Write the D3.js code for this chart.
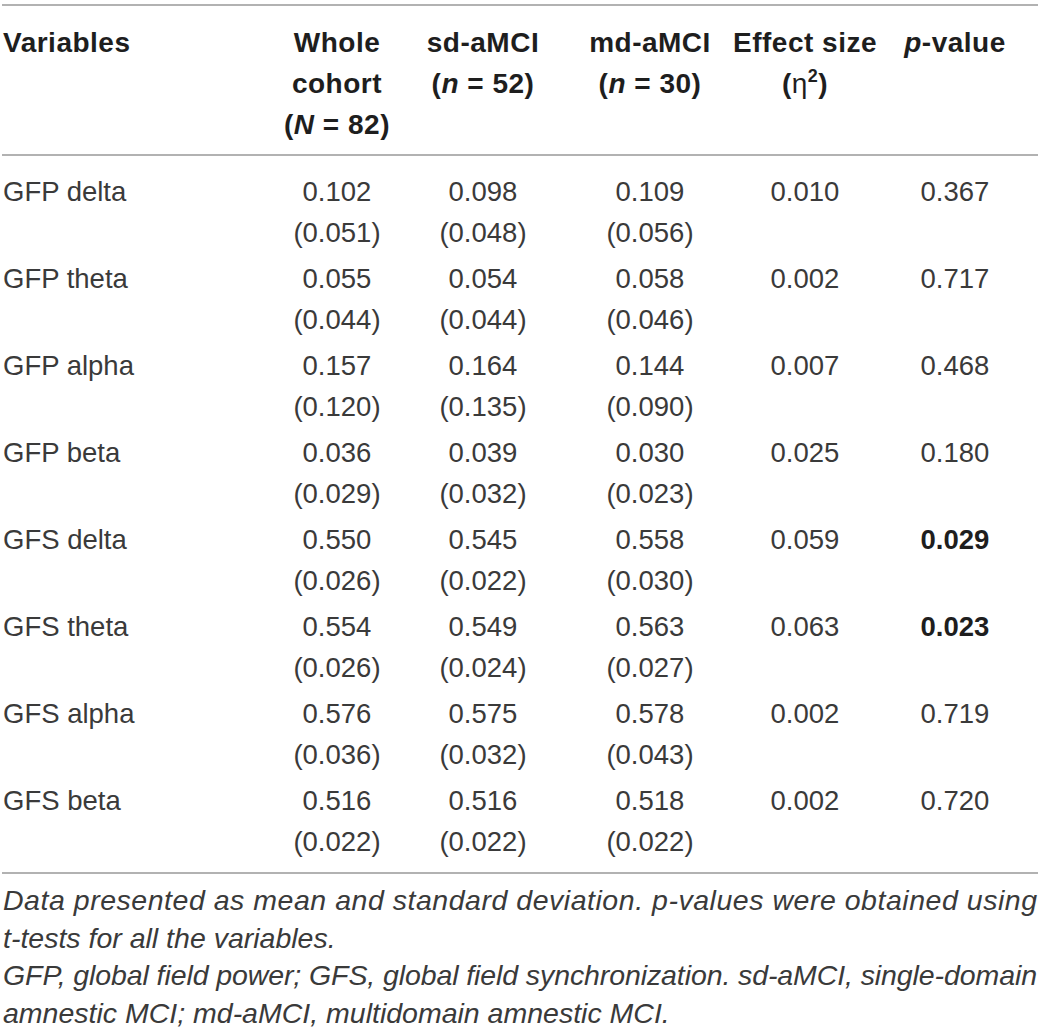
<!DOCTYPE html>
<meta charset="utf-8">
<style>
  body { margin: 0; background: #fff; }
  svg text { font-family: 'Liberation Sans', Arial, sans-serif; }
  .head { font-weight: bold; font-size: 28px; fill: #1e1e1e; letter-spacing: 0.5px; }
  .cell { font-size: 27.5px; fill: #3a3a3a; }
  .note { font-style: italic; font-size: 28.5px; fill: #3a3a3a; }
  .rule { stroke: #999; stroke-width: 1.6; }
</style>
<body>
<script src="https://cdn.jsdelivr.net/npm/d3@7"></script>
<script>
  var width = 1040,
    height = 1032;

  // table data
  var variables = ["GFP delta", "GFP theta", "GFP alpha", "GFP beta",
    "GFS delta", "GFS theta", "GFS alpha", "GFS beta"];
  var wholeMean = ["0.102", "0.055", "0.157", "0.036", "0.550", "0.554", "0.576", "0.516"];
  var wholeSd   = ["0.051", "0.044", "0.120", "0.029", "0.026", "0.026", "0.036", "0.022"];
  var sdMean    = ["0.098", "0.054", "0.164", "0.039", "0.545", "0.549", "0.575", "0.516"];
  var sdSd      = ["0.048", "0.044", "0.135", "0.032", "0.022", "0.024", "0.032", "0.022"];
  var mdMean    = ["0.109", "0.058", "0.144", "0.030", "0.558", "0.563", "0.578", "0.518"];
  var mdSd      = ["0.056", "0.046", "0.090", "0.023", "0.030", "0.027", "0.043", "0.022"];
  var effect    = ["0.010", "0.002", "0.007", "0.025", "0.059", "0.063", "0.002", "0.002"];
  var pValue    = ["0.367", "0.717", "0.468", "0.180", "0.029", "0.023", "0.719", "0.720"];

  var columns = ["whole", "sd", "md", "effect", "p"];
  var footnotes = [
    "Data presented as mean and standard deviation. p-values were obtained using",
    "t-tests for all the variables.",
    "GFP, global field power; GFS, global field synchronization. sd-aMCI, single-domain",
    "amnestic MCI; md-aMCI, multidomain amnestic MCI."
  ];
  var justified = [true, false, true, false];

  var svg = d3.select("body").append("svg")
    .attr("width", width)
    .attr("height", height);

  var x = d3.scaleOrdinal()
    .domain(columns)
    .range([337, 483, 650, 805, 955]);

  var y = d3.scalePoint()
    .domain(variables)
    .range([201, 810]);

  var lineGap = 41;

  // rules
  [5, 155, 873].forEach(function(yy) {
    svg.append("line").attr("class", "rule")
      .attr("x1", 2).attr("x2", 1038)
      .attr("y1", yy).attr("y2", yy);
  });

  /* header */
  var hb = 52;
  svg.append("text").attr("class", "head")
    .attr("x", 3).attr("y", hb).text("Variables");

  function headLines(col, lines) {
    var t = svg.append("text").attr("class", "head")
      .attr("text-anchor", "middle");
    lines.forEach(function(parts, i) {
      var line = t.append("tspan").attr("x", x(col)).attr("y", hb + i * lineGap);
      parts.forEach(function(p) {
        var s = line.append("tspan").text(p[0]);
        if (p[1] == "i") s.style("font-style", "italic");
        if (p[1] == "eta") s.style("font-weight", "normal");
        if (p[1] == "sup") s.attr("dy", -11).style("font-size", "18px");
        if (p[1] == "unsup") s.attr("dy", 11);
      });
    });
  }

  headLines("whole", [[["Whole"]], [["cohort"]], [["("], ["N", "i"], [" = 82)"]]]);
  headLines("sd", [[["sd-aMCI"]], [["("], ["n", "i"], [" = 52)"]]]);
  headLines("md", [[["md-aMCI"]], [["("], ["n", "i"], [" = 30)"]]]);
  headLines("effect", [[["Effect size"]], [["("], ["η", "eta"], ["2", "sup"], [")", "unsup"]]]);
  headLines("p", [[["p", "i"], ["-value"]]]);

  /* body rows */
  var rows = svg.selectAll("g.row")
    .data(variables)
    .enter().append("g")
    .attr("class", "row")
    .attr("transform", function(d) { return "translate(0," + y(d) + ")"; });

  rows.append("text").attr("class", "cell")
    .attr("x", 3)
    .text(function(d) { return d; });

  function addCol(col, means, sds) {
    rows.append("text").attr("class", "cell")
      .attr("x", x(col))
      .attr("text-anchor", "middle")
      .text(function(d, i) { return means[i]; });
    if (sds) {
      rows.append("text").attr("class", "cell")
        .attr("x", x(col))
        .attr("y", lineGap)
        .attr("text-anchor", "middle")
        .text(function(d, i) { return "(" + sds[i] + ")"; });
    }
  }

  addCol("whole", wholeMean, wholeSd);
  addCol("sd", sdMean, sdSd);
  addCol("md", mdMean, mdSd);
  addCol("effect", effect, null);

  rows.append("text").attr("class", "cell")
    .attr("x", x("p"))
    .attr("text-anchor", "middle")
    .style("font-weight", function(d, i) { return +pValue[i] < 0.05 ? "bold" : null; })
    .style("fill", function(d, i) { return +pValue[i] < 0.05 ? "#1e1e1e" : null; })
    .text(function(d, i) { return pValue[i]; });

  /* footnotes */
  svg.selectAll("text.note")
    .data(footnotes)
    .enter().append("text")
    .attr("class", "note")
    .attr("x", 3)
    .attr("y", function(d, i) { return 910 + i * 37.5; })
    .attr("textLength", function(d, i) { return justified[i] ? 1034 : null; })
    .attr("lengthAdjust", "spacing")
    .text(function(d) { return d; });
</script>
</body>
